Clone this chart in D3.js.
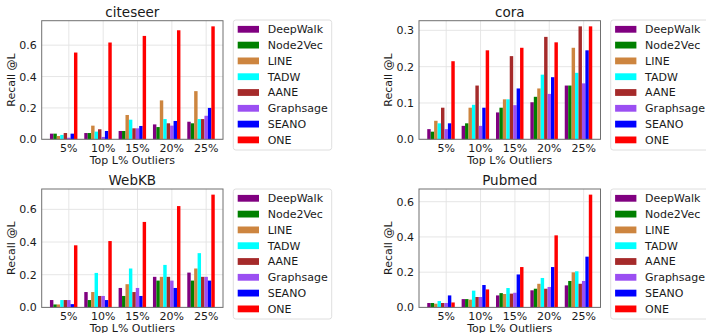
<!DOCTYPE html>
<html><head><meta charset="utf-8">
<script src="https://cdn.jsdelivr.net/npm/d3@7"></script>
<style>html,body{margin:0;padding:0;background:#fff;}svg{display:block;font-family:"DejaVu Sans",sans-serif;}</style>
</head><body><svg id="c" width="706" height="333"></svg>
<script>
const categories = ["5%", "10%", "15%", "20%", "25%"];
const methods = ["DeepWalk", "Node2Vec", "LINE", "TADW", "AANE", "Graphsage", "SEANO", "ONE"];
const colors = ["#800080", "#008000", "#cd853f", "#00ffff", "#a52a2a", "#9b4ff2", "#0000ff", "#ff0000"];

// rows: methods (same order), columns: categories
const citeseer = [
  [0.036, 0.040, 0.053, 0.095, 0.112],
  [0.036, 0.040, 0.053, 0.078, 0.102],
  [0.021, 0.087, 0.155, 0.248, 0.307],
  [0.028, 0.049, 0.125, 0.129, 0.129],
  [0.040, 0.064, 0.070, 0.102, 0.129],
  [0.010, 0.015, 0.070, 0.087, 0.150],
  [0.036, 0.053, 0.085, 0.117, 0.200],
  [0.553, 0.617, 0.659, 0.695, 0.720]
];
const cora = [
  [0.028, 0.037, 0.074, 0.102, 0.148],
  [0.021, 0.044, 0.087, 0.117, 0.148],
  [0.051, 0.087, 0.110, 0.140, 0.252],
  [0.044, 0.095, 0.110, 0.178, 0.183],
  [0.087, 0.148, 0.229, 0.282, 0.311],
  [0.028, 0.037, 0.094, 0.125, 0.154],
  [0.044, 0.087, 0.140, 0.171, 0.245],
  [0.215, 0.245, 0.252, 0.267, 0.311]
];
const webkb = [
  [0.045, 0.094, 0.119, 0.187, 0.213],
  [0.018, 0.045, 0.070, 0.164, 0.164],
  [0.018, 0.094, 0.142, 0.187, 0.238],
  [0.045, 0.211, 0.238, 0.260, 0.332],
  [0.045, 0.070, 0.094, 0.187, 0.187],
  [0.045, 0.070, 0.119, 0.164, 0.187],
  [0.020, 0.045, 0.070, 0.119, 0.164],
  [0.380, 0.406, 0.523, 0.620, 0.690]
];
const pubmed = [
  [0.025, 0.047, 0.068, 0.097, 0.125],
  [0.025, 0.047, 0.081, 0.106, 0.150],
  [0.021, 0.044, 0.076, 0.134, 0.199],
  [0.036, 0.095, 0.110, 0.167, 0.205],
  [0.025, 0.059, 0.078, 0.106, 0.134],
  [0.025, 0.059, 0.083, 0.116, 0.150],
  [0.068, 0.127, 0.187, 0.229, 0.288],
  [0.028, 0.102, 0.229, 0.409, 0.640]
];
const ticksWide = [0, 0.2, 0.4, 0.6];
const ticksCora = [0, 0.1, 0.2, 0.3];

const panels = [
  {title: "citeseer", data: citeseer, ticks: ticksWide, x0: 41.7, x1: 223, y0: 20.7, y1: 139.3, lx: 233.3, ly: 20},
  {title: "cora", data: cora, ticks: ticksCora, x0: 419, x1: 600.5, y0: 20.7, y1: 139.3, lx: 610.7, ly: 20},
  {title: "WebKB", data: webkb, ticks: ticksWide, x0: 41.7, x1: 223, y0: 189, y1: 307.4, lx: 233.3, ly: 189},
  {title: "Pubmed", data: pubmed, ticks: ticksWide, x0: 419, x1: 600.5, y0: 189, y1: 307.4, lx: 610.7, ly: 189}
];

const svg = d3.select("#c");
const bw = 0.1;
const txt = "#1a1a1a";

panels.forEach(p => {
  const g = svg.append("g");
  const maxV = d3.max(p.data.flat());
  const y = d3.scaleLinear().domain([0, maxV * 1.05]).range([p.y1, p.y0]);
  const lo = -bw / 2, hi = (categories.length - 1) + (methods.length - 1) * bw + bw / 2;
  const m = (hi - lo) * 0.05;
  const x = d3.scaleLinear().domain([lo - m, hi + m]).range([p.x0, p.x1]);
  const tickPos = categories.map((c, i) => i + 0.5);

  // grid
  g.selectAll(".gy").data(p.ticks).enter().append("line")
    .attr("x1", p.x0).attr("x2", p.x1)
    .attr("y1", d => y(d)).attr("y2", d => y(d))
    .attr("stroke", "#e3e3e3").attr("stroke-width", 0.9);
  g.selectAll(".gx").data(tickPos).enter().append("line")
    .attr("x1", d => x(d)).attr("x2", d => x(d))
    .attr("y1", p.y0).attr("y2", p.y1)
    .attr("stroke", "#e3e3e3").attr("stroke-width", 0.9);

  // bars
  p.data.forEach((series, k) => {
    g.selectAll(null).data(series).enter().append("rect")
      .attr("x", (d, i) => x(i + k * bw - bw / 2))
      .attr("width", x(bw) - x(0))
      .attr("y", d => y(d))
      .attr("height", d => y(0) - y(d))
      .attr("fill", colors[k]);
  });

  // frame
  g.append("rect").attr("x", p.x0).attr("y", p.y0)
    .attr("width", p.x1 - p.x0).attr("height", p.y1 - p.y0)
    .attr("fill", "none").attr("stroke", "#707070").attr("stroke-width", 1);

  // y tick labels
  g.selectAll(".yl").data(p.ticks).enter().append("text")
    .attr("x", p.x0 - 5).attr("y", d => y(d)).attr("dy", "0.36em")
    .attr("text-anchor", "end").attr("font-size", 11).attr("fill", txt)
    .text(d => d3.format(".1f")(d));
  // x tick labels
  g.selectAll(".xl").data(categories).enter().append("text")
    .attr("x", (d, i) => x(tickPos[i])).attr("y", p.y1 + 12.5)
    .attr("text-anchor", "middle").attr("font-size", 11).attr("fill", txt)
    .text(d => d);
  // x label
  g.append("text").attr("x", (p.x0 + p.x1) / 2).attr("y", p.y1 + 24.5)
    .attr("text-anchor", "middle").attr("font-size", 11).attr("fill", txt)
    .text("Top L% Outliers");
  // y label
  const yc = (p.y0 + p.y1) / 2;
  g.append("text").attr("transform", `translate(${p.x0 - 27},${yc}) rotate(-90)`)
    .attr("text-anchor", "middle").attr("font-size", 11).attr("fill", txt)
    .text("Recall @L");
  // title
  g.append("text").attr("x", (p.x0 + p.x1) / 2).attr("y", p.y0 - 4)
    .attr("text-anchor", "middle").attr("font-size", 13.5).attr("fill", txt)
    .text(p.title);

  // legend
  const lg = svg.append("g").attr("transform", `translate(${p.lx},${p.ly})`);
  lg.append("rect").attr("x", 0).attr("y", 0).attr("width", 98.4).attr("height", 130)
    .attr("rx", 2.5).attr("fill", "#fff").attr("stroke", "#d6d6d6").attr("stroke-width", 0.8);
  methods.forEach((name, k) => {
    const cy = 9.3 + k * 15.8;
    lg.append("rect").attr("x", 4.4).attr("y", cy - 3.4).attr("width", 21.3).attr("height", 6.8)
      .attr("fill", colors[k]);
    lg.append("text").attr("x", 34.4).attr("y", cy).attr("dy", "0.36em")
      .attr("font-size", 11).attr("fill", txt).text(name);
  });
});
</script></body></html>
